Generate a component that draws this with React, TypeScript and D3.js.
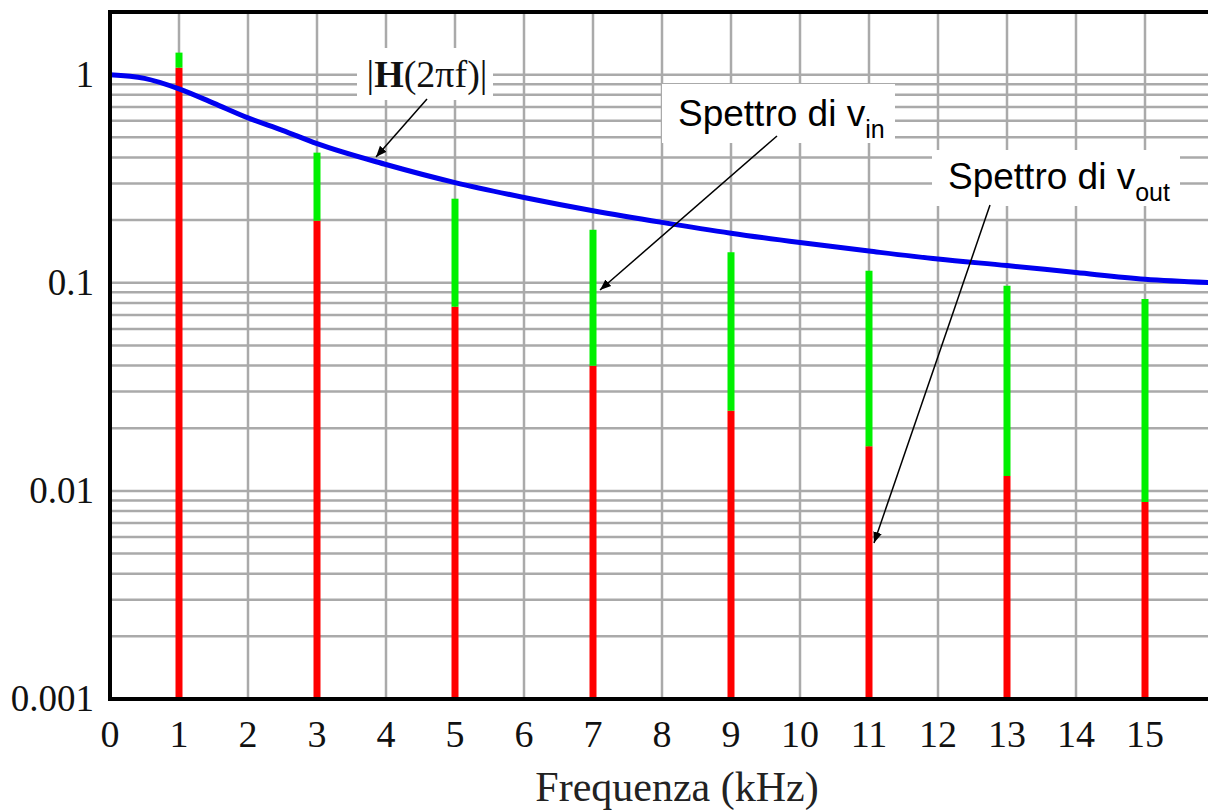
import React, { useEffect, useRef } from 'react';
import * as d3 from 'd3';

// harmonics (kHz) of the square wave
const harmonics = [1, 3, 5, 7, 9, 11, 13, 15];
// input spectrum amplitude (green tops)
const vin = [1.276, 0.422, 0.2535, 0.1798, 0.140, 0.1142, 0.0967, 0.0835];
// output spectrum amplitude (red tops)
const vout = [1.08, 0.1986, 0.0767, 0.0399, 0.0243, 0.0164, 0.0118, 0.00885];

// |H(2 pi f)|
const hFreq = [0, 0.5, 1, 1.5, 2, 2.5, 3, 4, 5, 6, 7, 8, 9, 10, 11, 12, 13, 14, 15, 16];
const hMag = [1.0, 0.96, 0.855, 0.73, 0.62, 0.54, 0.466, 0.37, 0.303, 0.257, 0.222, 0.195, 0.173, 0.156, 0.142, 0.13, 0.121, 0.112, 0.104, 0.1];

const xTicks = [0, 1, 2, 3, 4, 5, 6, 7, 8, 9, 10, 11, 12, 13, 14, 15];
const yTicks = [1, 0.1, 0.01, 0.001];
const yTickLabels = ['1', '0.1', '0.01', '0.001'];

export default function App() {
    const ref = useRef<SVGSVGElement>(null);

    useEffect(() => {
        const svg = d3.select(ref.current);
        svg.selectAll('*').remove();

        const left = 110, right = 1214, top = 12, bottom = 699;

        const x = d3.scaleLinear().domain([0, 16]).range([left, right]);
        const y = d3.scaleLog().domain([0.001, 2]).range([bottom, top]);

        svg.append('rect').attr('width', 1208).attr('height', 811).attr('fill', '#ffffff');

        // grid
        const grid = svg.append('g').attr('stroke', '#aaaaaa').attr('stroke-width', 2.5);
        const minor = y.ticks().filter((d) => d <= 1);
        grid.selectAll('line.h')
            .data(minor)
            .enter()
            .append('line')
                .attr('x1', left).attr('x2', right)
                .attr('y1', (d) => y(d)).attr('y2', (d) => y(d));
        grid.selectAll('line.v')
            .data(d3.range(1, 16))
            .enter()
            .append('line')
                .attr('x1', (d) => x(d)).attr('x2', (d) => x(d))
                .attr('y1', top).attr('y2', bottom);

        // stems: red = output, green = part removed by the filter
        const stems = svg.append('g').attr('stroke-width', 7);
        stems.selectAll('line.red')
            .data(harmonics)
            .enter()
            .append('line')
                .attr('stroke', '#ff0000')
                .attr('x1', (d) => x(d)).attr('x2', (d) => x(d))
                .attr('y1', y(0.001)).attr('y2', (d, i) => y(vout[i]));
        stems.selectAll('line.green')
            .data(harmonics)
            .enter()
            .append('line')
                .attr('stroke', '#00f000')
                .attr('x1', (d) => x(d)).attr('x2', (d) => x(d))
                .attr('y1', (d, i) => y(vout[i])).attr('y2', (d, i) => y(vin[i]));

        // transfer function
        const line = d3.line<number>()
            .x((d, i) => x(hFreq[i]))
            .y((d) => y(d))
            .curve(d3.curveMonotoneX);
        svg.append('path')
            .attr('d', line(hMag))
            .attr('fill', 'none')
            .attr('stroke', '#0000f0')
            .attr('stroke-width', 5);

        // frame
        svg.append('path')
            .attr('d', `M${right},${top}H${left}V${bottom}H${right}`)
            .attr('fill', 'none')
            .attr('stroke', '#000')
            .attr('stroke-width', 4);

        // tick labels
        const serif = '"Liberation Serif", "Times New Roman", serif';
        svg.selectAll('text.xt')
            .data(xTicks)
            .enter()
            .append('text')
                .attr('x', (d) => x(d))
                .attr('y', 747)
                .attr('text-anchor', 'middle')
                .attr('font-family', serif)
                .attr('font-size', 38)
                .attr('fill', '#111')
                .text((d) => d);
        svg.selectAll('text.yt')
            .data(yTicks)
            .enter()
            .append('text')
                .attr('x', 94)
                .attr('y', (d) => y(d) + 12)
                .attr('text-anchor', 'end')
                .attr('font-family', serif)
                .attr('font-size', 37)
                .attr('fill', '#111')
                .text((d, i) => yTickLabels[i]);
        svg.append('text')
            .attr('x', 677)
            .attr('y', 801)
            .attr('text-anchor', 'middle')
            .attr('font-family', serif)
            .attr('font-size', 42)
            .attr('fill', '#222')
            .text('Frequenza (kHz)');

        // arrowhead
        svg.append('defs').append('marker')
            .attr('id', 'arr')
            .attr('viewBox', '0 0 10 10')
            .attr('refX', 10).attr('refY', 5)
            .attr('markerWidth', 11).attr('markerHeight', 11)
            .attr('markerUnits', 'userSpaceOnUse')
            .attr('orient', 'auto')
            .append('path')
                .attr('d', 'M0,1L10,5L0,9Z')
                .attr('fill', '#000');

        const arrow = (x1, y1, x2, y2) => {
            svg.append('line')
                .attr('x1', x1).attr('y1', y1).attr('x2', x2).attr('y2', y2)
                .attr('stroke', '#000').attr('stroke-width', 1.5)
                .attr('marker-end', 'url(#arr)');
        };

        // |H(2 pi f)| label
        svg.append('rect').attr('x', 357).attr('y', 48).attr('width', 136).attr('height', 52).attr('fill', '#fff');
        const hl = svg.append('text')
            .attr('x', 427).attr('y', 87)
            .attr('text-anchor', 'middle')
            .attr('font-family', serif)
            .attr('font-size', 38)
            .attr('fill', '#111');
        hl.append('tspan').text('|');
        hl.append('tspan').attr('font-weight', 'bold').text('H');
        hl.append('tspan').text('(2\u03c0f)|');
        arrow(427, 99, 376, 157);

        // spectrum labels
        const sans = '"Liberation Sans", Arial, sans-serif';
        const label = (bx, by, bw, bh, tx, ty, sub) => {
            svg.append('rect').attr('x', bx).attr('y', by).attr('width', bw).attr('height', bh).attr('fill', '#fff');
            const t = svg.append('text')
                .attr('x', tx).attr('y', ty)
                .attr('font-family', sans)
                .attr('font-size', 37)
                .attr('fill', '#000');
            t.append('tspan').text('Spettro di v');
            t.append('tspan').attr('font-size', 25).attr('dy', 12).text(sub);
        };
        label(662, 84, 233, 59, 678, 126, 'in');
        arrow(777, 136, 600, 290);
        label(932, 150, 248, 56, 948, 189, 'out');
        arrow(990, 205, 874, 543);

    }, []);

    return (
        <svg ref={ref} width={1208} height={811} style={{ position: 'absolute', left: 0, top: 0 }} />
    );
}
